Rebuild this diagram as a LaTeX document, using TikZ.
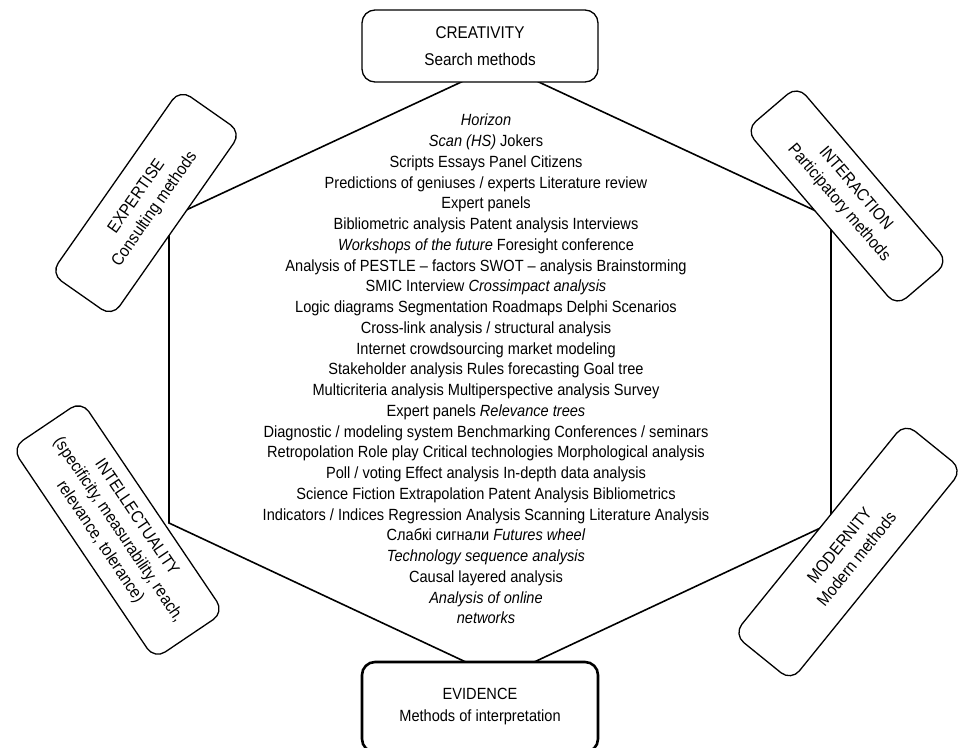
\documentclass[tikz,border=0pt]{standalone}
\usepackage{fontspec}
\setmainfont{Liberation Sans}[FakeStretch=0.9]
\begin{document}
\begin{tikzpicture}[x=1pt,y=-1pt,
  hexline/.style={line width=1.6pt, line join=miter},
  catbox/.style={draw, line width=1.3pt, fill=white, rounded corners=13pt,
    align=center, inner sep=0pt, font=\fontsize{17}{22}\selectfont},
  methods/.style={align=center, inner sep=0pt,
    font=\fontsize{16.2}{20.75}\selectfont}]
\clip (0,0) rectangle (960,747);
\fill[white] (0,0) rectangle (960,747);

% hexagon of methods
\coordinate (ht) at (500,64);
\coordinate (hur) at (831,218);
\coordinate (hlr) at (831,523);
\coordinate (hb) at (500,678);
\coordinate (hll) at (169,523);
\coordinate (hul) at (169,218);
\draw[hexline] (ht) -- (hur) -- (hlr) -- (hb) -- (hll) -- (hul) -- cycle;

% list of methods
\node[methods] (list) at (486,369) {%
\textit{Horizon}\\
\textit{Scan (HS)} Jokers\\
Scripts Essays Panel Citizens\\
Predictions of geniuses / experts Literature review\\
Expert panels\\
Bibliometric analysis Patent analysis Interviews\\
\textit{Workshops of the future} Foresight conference\\
Analysis of PESTLE -- factors SWOT -- analysis Brainstorming\\
SMIC Interview \textit{Crossimpact analysis}\\
Logic diagrams Segmentation Roadmaps Delphi Scenarios\\
Cross-link analysis / structural analysis\\
Internet crowdsourcing market modeling\\
Stakeholder analysis Rules forecasting Goal tree\\
Multicriteria analysis Multiperspective analysis Survey\\
Expert panels \textit{Relevance trees}\\
Diagnostic / modeling system Benchmarking Conferences / seminars\\
Retropolation Role play Critical technologies Morphological analysis\\
Poll / voting Effect analysis In-depth data analysis\\
Science Fiction Extrapolation Patent Analysis Bibliometrics\\
Indicators / Indices Regression Analysis Scanning Literature Analysis\\
Слабкі сигнали \textit{Futures wheel}\\
\textit{Technology sequence analysis}\\
Causal layered analysis\\
\textit{Analysis of online}\\
\textit{networks}};

% category boxes around the hexagon
\node[catbox, minimum width=236pt, minimum height=72pt] (creativity)
  at (480,46) {CREATIVITY\\[5pt]Search methods};
\node[catbox, rotate=55, minimum width=225pt, minimum height=75pt] (expertise)
  at (146,203) {EXPERTISE\\Consulting methods};
\node[catbox, rotate=-49.5, minimum width=232pt, minimum height=68pt] (interaction)
  at (847,196) {INTERACTION\\Participatory methods};
\node[catbox, rotate=-56, minimum width=255pt, minimum height=84pt] (intellect)
  at (118,530) {INTELLECTUALITY\\(specificity, measurability, reach,\\relevance, tolerance)};
\node[catbox, rotate=51, minimum width=272pt, minimum height=74pt] (modernity)
  at (848,552) {MODERNITY\\Modern methods};
\node[catbox, line width=2.6pt, minimum width=236pt, minimum height=90pt,
  font=\fontsize{16.2}{22}\selectfont] (evidence)
  at (480,707) {EVIDENCE\\Methods of interpretation};
\end{tikzpicture}
\end{document}
